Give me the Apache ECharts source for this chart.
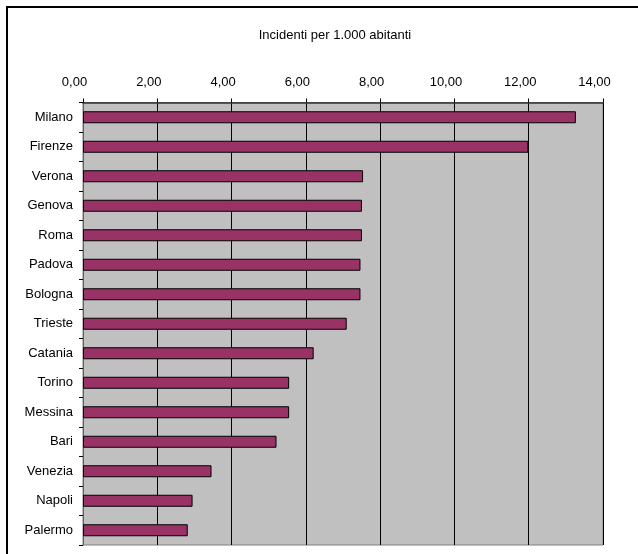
<!DOCTYPE html>
<html>
<head>
<meta charset="utf-8">
<script src="https://cdn.jsdelivr.net/npm/echarts@6/dist/echarts.min.js"></script>
<style>
  html, body { margin: 0; padding: 0; background: #fff; }
  #chart { width: 638px; height: 554px; }
</style>
</head>
<body>
<div id="chart"></div>
<script>
// Cities, top to bottom
const cities = ['Milano', 'Firenze', 'Verona', 'Genova', 'Roma', 'Padova', 'Bologna',
  'Trieste', 'Catania', 'Torino', 'Messina', 'Bari', 'Venezia', 'Napoli', 'Palermo'];
// Incidents per 1,000 inhabitants
const incidents = [13.27, 11.99, 7.54, 7.51, 7.51, 7.47, 7.47,
  7.10, 6.21, 5.55, 5.55, 5.21, 3.46, 2.95, 2.82];
// Value axis range
const axisMin = 0;
const axisMax = 14;
const axisStep = 2;

const font = '"Liberation Sans", Arial, sans-serif';
const chart = echarts.init(document.getElementById('chart'));

chart.setOption({
  animation: false,
  backgroundColor: '#ffffff',
  title: {
    text: 'Incidenti per 1.000 abitanti',
    left: 330,
    textAlign: 'center',
    top: 24,
    textStyle: { fontFamily: font, fontSize: 13, fontWeight: 'normal', color: '#000' }
  },
  graphic: [{
    type: 'rect',
    shape: { x: 7, y: 7, width: 700, height: 700 },
    style: { fill: 'none', stroke: '#000', lineWidth: 2 },
    silent: true
  }],
  grid: {
    left: 83, right: 35, top: 102.5, bottom: 9,
    show: true,
    backgroundColor: '#c0c0c0',
    borderColor: '#808080',
    borderWidth: 1,
    containLabel: false
  },
  xAxis: {
    type: 'value',
    position: 'top',
    min: axisMin,
    max: axisMax,
    interval: axisStep,
    axisLine: { show: true, lineStyle: { color: '#333', width: 1.5 } },
    axisTick: { show: true, length: 4, lineStyle: { color: '#000' } },
    splitLine: { show: true, lineStyle: { color: '#000', width: 1 } },
    axisLabel: {
      margin: 14,
      color: '#000',
      fontFamily: font,
      fontSize: 13,
      padding: [0, 17, 0, 0],
      formatter: v => v.toFixed(2).replace('.', ',')
    }
  },
  yAxis: {
    type: 'category',
    data: cities,
    inverse: true,
    axisLine: { show: true, lineStyle: { color: '#606060', width: 1 } },
    axisTick: { show: true, length: 4, alignWithLabel: false, lineStyle: { color: '#000' } },
    axisLabel: { margin: 10, color: '#000', fontFamily: font, fontSize: 13 },
    splitLine: { show: false }
  },
  series: [{
    type: 'bar',
    data: incidents,
    barWidth: 12,
    itemStyle: { color: '#993366', borderColor: '#000', borderWidth: 1 },
    silent: true
  }]
});
</script>
</body>
</html>
